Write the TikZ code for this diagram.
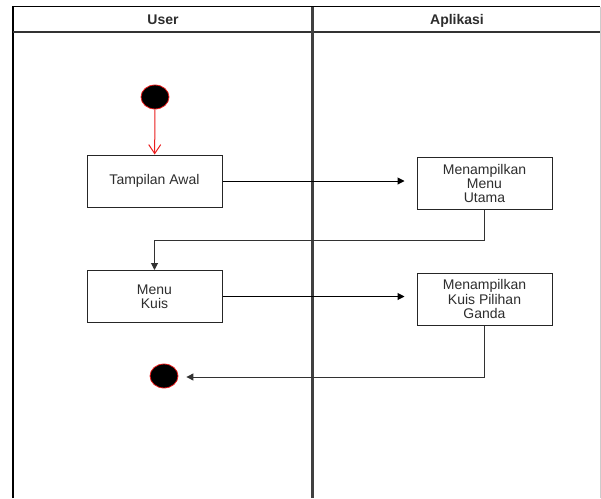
\documentclass[tikz,border=0pt]{standalone}
\usepackage{fontspec}
\setmainfont{Liberation Sans}
\usetikzlibrary{arrows.meta,shapes.geometric}
\definecolor{txt}{RGB}{45,45,45}
\definecolor{lineg}{RGB}{50,50,50}
\definecolor{redc}{RGB}{235,30,30}
\begin{document}
\begin{tikzpicture}[x=1pt,y=-1pt,
  actbox/.style={draw=black!85, line width=1pt, fill=white, minimum width=135pt, minimum height=52pt, inner sep=0pt, align=center, font=\fontsize{14}{14.3}\selectfont, text=txt},
  dot/.style={ellipse, draw=redc, fill=black, line width=0.8pt, minimum width=28pt, minimum height=24pt, inner sep=0pt},
  flow/.style={draw=black, line width=1pt, -{Triangle[length=7pt,width=7pt]}},
  hdr/.style={font=\bfseries\fontsize{14}{16}\selectfont, text=txt, anchor=base, inner sep=0pt}
]
\useasboundingbox (0,0) rectangle (601,498);
\fill[white] (0,0) rectangle (601,498);
% swimlane frame
\draw[black!20, line width=1pt] (600,6.5) -- (600,498);
\draw[black, line width=1.4pt] (13,498) -- (13,6.5) -- (600,6.5);
\draw[black!80, line width=1.2pt] (13,32) -- (600,32);
\draw[black!75, line width=2.6pt] (312.5,6.5) -- (312.5,498);
\node[hdr] (hU) at (163,24.5) {User};
\node[hdr] (hA) at (457,24.5) {Aplikasi};
% nodes
\node[dot] (start) at (155,97) {};
\node[actbox] (awal) at (154.5,181) {Tampilan Awal};
\node[actbox] (utama) at (484.5,183.5) {Menampilkan\\Menu\\Utama};
\node[actbox] (kuis) at (154.5,296.5) {Menu\\Kuis};
\node[actbox] (ganda) at (484.5,299) {Menampilkan\\Kuis Pilihan\\Ganda};
\node[dot] (end) at (164,376) {};
% connectors
\draw[redc, line width=1pt, -{Straight Barb[length=9pt,width=12pt]}] (start) -- (awal);
\draw[flow, shorten >=12pt] (awal.east) -- (awal.east -| utama.west);
\coordinate (c1) at (utama.south |- 0,240);
\coordinate (c2) at (kuis.north |- 0,240);
\draw[flow, draw=lineg] (utama.south) -- (c1) -- (c2) -- (kuis.north);
\draw[flow, shorten >=12pt] (kuis.east) -- (kuis.east -| ganda.west);
\coordinate (c3) at (ganda.south |- 0,377);
\draw[flow, draw=lineg, shorten >=8pt] (ganda.south) -- (c3) -- (c3 -| end.east);
\end{tikzpicture}
\end{document}
